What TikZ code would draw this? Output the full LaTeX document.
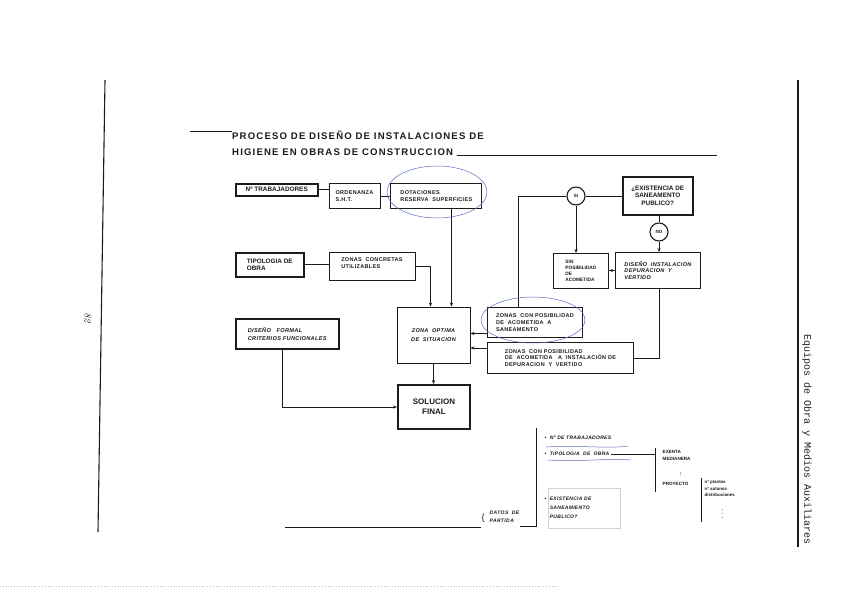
\documentclass[tikz,border=0pt]{standalone}
\usepackage{fontspec}
\setsansfont{Liberation Sans}
\setmonofont{Liberation Mono}
\usetikzlibrary{arrows.meta,positioning,calc}
\definecolor{ink}{HTML}{1C1C1C}
\definecolor{pen}{HTML}{5B6CC4}
\newcommand\spaced[1]{\addfontfeatures{LetterSpace=#1}}
\tikzset{
  box/.style={draw=ink,line width=0.9pt,align=left,anchor=north west,inner sep=2.5pt,
              text=ink,font=\sffamily\bfseries\fontsize{5.5}{6.8}\selectfont\spaced{6}},
  hbox/.style={box,line width=1.5pt,font=\sffamily\bfseries\fontsize{6.4}{7.6}\selectfont},
  ibox/.style={box,font=\sffamily\bfseries\itshape\fontsize{5.5}{6.8}\selectfont\spaced{6}},
  circ/.style={draw=ink,circle,line width=1.1pt,minimum size=18pt,inner sep=0pt,
               text=ink,font=\sffamily\bfseries\fontsize{4.5}{5}\selectfont},
  arr/.style={-{Stealth[length=4pt,width=3.2pt]},line width=0.9pt,draw=ink},
  ln/.style={line width=0.9pt,draw=ink},
  pencil/.style={draw=pen,line width=0.5pt},
  note/.style={anchor=west,inner sep=0.5pt,align=left,text=ink,
               font=\sffamily\bfseries\itshape\fontsize{5}{9}\selectfont}
}

\begin{document}
\begin{tikzpicture}[x=1pt,y=-1pt]
    \useasboundingbox[fill=white] (0,0) rectangle (848,594);
    % page frame and margin notes
    \coordinate (lt) at (105,80);
    \coordinate (lb) at (98,532);
    \coordinate (rt) at (798,80);
    \coordinate (rb) at (798,547);
    \draw[line width=1.1pt,ink] (lt) -- (lb);
    \draw[line width=1.1pt,ink] (rt) -- (rb);
    \node[rotate=-90,font=\ttfamily\fontsize{10}{10}\selectfont,text=ink] (side) at (807,440)
         {Equipos de Obra y Medios Auxiliares};
    \node[rotate=-95,font=\itshape\fontsize{10}{10}\selectfont,text=ink] (pg) at (88,318) {82};
    \draw[gray!50,dotted,line width=0.8pt] (0,586) -- (560,586);
    % title
    \node[anchor=west,inner sep=0pt,text=ink,font=\sffamily\bfseries\fontsize{9.6}{10}\selectfont\spaced{12}]
         (t1) at (232,135) {PROCESO DE DISEÑO DE INSTALACIONES DE};
    \node[anchor=west,inner sep=0pt,text=ink,font=\sffamily\bfseries\fontsize{9.6}{10}\selectfont\spaced{12}]
         (t2) at (232,152) {HIGIENE EN OBRAS DE CONSTRUCCION};
    \coordinate (t0) at (190,131);
    \coordinate (te) at (717,155);
    \draw[ln] (t0) -- (t0 -| t1.west);
    \draw[ln] ([xshift=4pt]t2.east |- te) -- (te);
    % left column
    \node[hbox,minimum width=82pt,minimum height=12pt,inner sep=1.5pt] (trab) at (235,183) {Nº TRABAJADORES};
    \node[box,right=10pt of trab.north east,anchor=north west,minimum width=51pt,minimum height=25pt] (ord)
         {ORDENANZA\\S.H.T.};
    \node[box,right=10pt of ord.north east,anchor=north west,minimum width=91pt,minimum height=25pt] (dot)
         {DOTACIONES\\RESERVA\ \ SUPERFICIES};
    \node[hbox,minimum width=68pt,minimum height=24pt] (tipo) at (235,252) {TIPOLOGIA DE\\OBRA};
    \node[box,right=24pt of tipo.north east,anchor=north west,minimum width=86pt,minimum height=28pt,
          text height=4pt] (zcu) {ZONAS\ \ CONCRETAS\\UTILIZABLES};
    \node[ibox,align=center,anchor=center,minimum width=73pt,minimum height=56pt] (zop) at (433.5,335)
         {ZONA\ \ OPTIMA\\[2pt]DE\ \ SITUACION};
    \node[hbox,font=\sffamily\bfseries\itshape\fontsize{5.6}{7.6}\selectfont\spaced{6},minimum width=103pt,
          minimum height=30pt] (dfor) at (235,318) {DISEÑO\ \ \ FORMAL\\CRITERIOS FUNCIONALES};
    \node[box,line width=2pt,align=center,anchor=center,minimum width=72pt,minimum height=44pt,
          font=\sffamily\bfseries\fontsize{8}{10}\selectfont] (sol) at (434,407) {SOLUCION\\FINAL};
    % right column
    \node[hbox,font=\sffamily\bfseries\fontsize{6.4}{7.4}\selectfont,align=center,minimum width=70pt,
          minimum height=38pt,inner sep=1pt] (exi) at (622,176) {¿EXISTENCIA DE\\SANEAMENTO\\PUBLICO?};
    \node[circ] (si) at (576,196) {SI};
    \node[circ] (no) at (659,232) {NO};
    \node[box,font=\sffamily\bfseries\fontsize{4.8}{6}\selectfont,minimum width=55pt,minimum height=35pt] (sinp)
         at (553,253) {SIN\\POSIBILIDAD\\DE\\ACOMETIDA};
    \node[ibox,minimum width=85pt,minimum height=36pt] (dins) at (615,252)
         {DISEÑO\ \ INSTALACION\\DEPURACION\ \ Y\\VERTIDO};
    \node[box,minimum width=95pt,minimum height=30pt] (zcps) at (487,307)
         {ZONAS\ \ CON POSIBILIDAD\\DE\ \ ACOMETIDA\ \ A\\SANEAMENTO};
    \node[box,minimum width=146pt,minimum height=31pt] (zcpd) at (487,342)
         {ZONAS\ \ CON POSIBILIDAD\\DE\ \ ACOMETIDA\ \ \ A\ \ INSTALACIÓN DE\\DEPURACION\ \ Y\ \ VERTIDO};
    % connectors
    \coordinate (zin1) at ([xshift=-3pt]zop.north);
    \coordinate (zin2) at ([xshift=18pt]zop.north);
    \coordinate (zsi) at ([xshift=-17pt]zcps.north);
    \coordinate (a1) at ([yshift=-11pt]zcps.west);
    \coordinate (a2) at ([yshift=10pt]zcpd.west);
    \draw[ln] (trab.east) -- (trab.east -| ord.west);
    \draw[ln] (ord.east) -- (dot.west);
    \draw[arr] (dot.south -| zin2) -- (zin2);
    \draw[ln] (tipo.east) -- (tipo.east -| zcu.west);
    \draw[arr] (zcu.east) -- (zcu.east -| zin1) -- (zin1);
    \draw[arr] (zop.south) -- (zop.south |- sol.north);
    \draw[arr] ([xshift=-5pt]dfor.south) |- (sol.west);
    \draw[ln] (si.east) -- (si.east -| exi.west);
    \draw[arr] (si.south) -- (si.south |- sinp.north);
    \draw[ln] (si.west) -| (zsi);
    \draw[ln] (no.north |- exi.south) -- (no.north);
    \draw[arr] (no.south) -- (no.south |- dins.north);
    \draw[arr] (dins.west) -- (dins.west -| sinp.east);
    \draw[ln] (dins.south -| no.south) |- (zcpd.east);
    \draw[arr] (a1) -- (a1 -| zop.east);
    \draw[arr] (a2) -- (a2 -| zop.east);
    % data summary at the bottom
    \coordinate (dp0) at (285,527);
    \coordinate (bt) at (536,428);
    \coordinate (bb) at (536,526);
    \node[note,font=\sffamily\fontsize{9}{9}\selectfont] (brc) at (481,518) {\{};
    \node[note,anchor=north west,font=\sffamily\bfseries\itshape\fontsize{5}{8}\selectfont\spaced{8}] (datos)
         at (489,510) {DATOS\ \ DE\\PARTIDA};
    \draw[ln] (dp0) -- (dp0 -| brc.west);
    \draw[ln] (bt) -- (bb) -- (bb -| datos.east);
    \node[note,font=\sffamily\bfseries\itshape\fontsize{5}{9}\selectfont\spaced{6}] (it1) at (544,438)
         {\textbullet\ \ Nº DE TRABAJADORES};
    \node[note,font=\sffamily\bfseries\itshape\fontsize{5}{9}\selectfont\spaced{6}] (it2) at (544,454)
         {\textbullet\ \ TIPOLOGIA\ \ DE\ \ OBRA};
    \node[note,anchor=north west,font=\sffamily\bfseries\itshape\fontsize{5}{9}\selectfont\spaced{6}] (it3)
         at (544,496)
         {\textbullet\ \ EXISTENCIA DE\\\hphantom{\textbullet\ \ }SANEAMIENTO\\\hphantom{\textbullet\ \ }PUBLICO?};
    \coordinate (b2t) at (655,448);
    \coordinate (b2b) at (655,492);
    \draw[ln] ([xshift=1pt]it2.east) -- (it2.east -| b2t);
    \draw[ln] (b2t) -- (b2b);
    \node[note,anchor=north west,font=\sffamily\bfseries\fontsize{4.6}{7}\selectfont] (exen) at (662,450)
         {EXENTA\\MEDIANERA};
    \node[note,font=\sffamily\bfseries\fontsize{5}{4}\selectfont] (dts1) at (679,474) {:};
    \node[note,font=\sffamily\bfseries\fontsize{4.6}{7}\selectfont] (proy) at (662,484) {PROYECTO};
    \coordinate (b3t) at (701,478);
    \coordinate (b3b) at (701,522);
    \draw[ln] (b3t) -- (b3b);
    \node[note,anchor=north west,font=\sffamily\bfseries\fontsize{4.4}{6.2}\selectfont] (plan) at (704,480)
         {nº plantas\\nº sotanos\\distribuciones};
    \node[note,font=\sffamily\bfseries\fontsize{5}{4}\selectfont] (dts2) at (721,511) {$\vdots$};
    % pencil marks
    \draw[pencil] (437,192) ellipse [x radius=50, y radius=26];
    \draw[pencil] (533,320) ellipse [x radius=52, y radius=23];
    \draw[pencil] (546,447) .. controls (580,445) and (610,449) .. (628,446);
    \draw[pencil] (548,460) .. controls (580,462) and (610,458) .. (631,460);
    \draw[gray!35,line width=0.4pt] (548,488) rectangle (620,528);
\end{tikzpicture}
\end{document}
